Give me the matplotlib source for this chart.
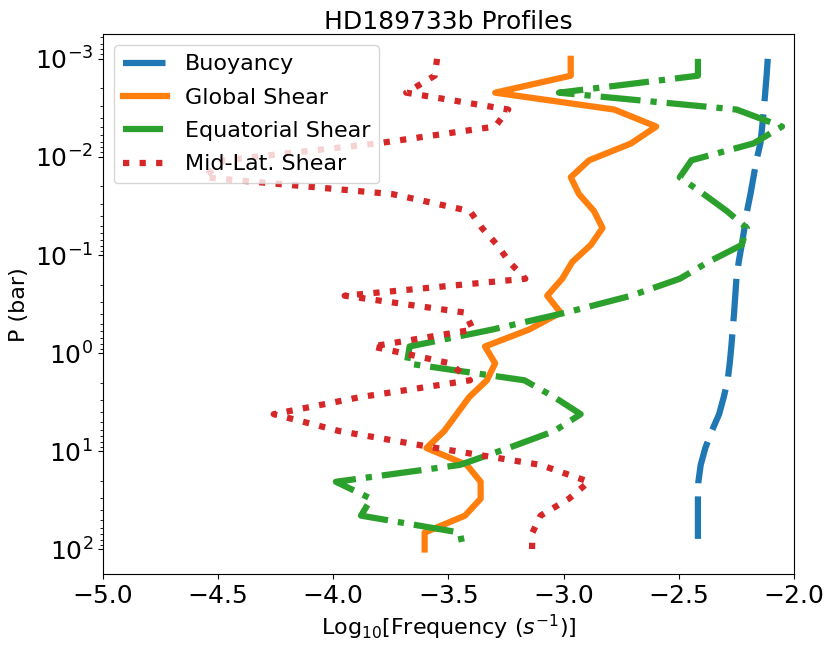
import matplotlib
matplotlib.use("Agg")
import matplotlib.pyplot as plt

# Pressure levels (bar)
pressure = [1.000e-3, 1.486e-3, 2.213e-3, 3.289e-3, 4.898e-3, 7.278e-3, 1.081e-2, 1.611e-2,
            2.393e-2, 3.565e-2, 5.297e-2, 7.889e-2, 0.1172, 0.1742, 0.2594, 0.3855,
            0.5741, 0.8531, 1.268, 1.888, 2.805, 4.178, 6.209, 9.247, 13.74, 20.42,
            30.41, 45.19, 67.30, 100.0]

buoyancy = [-2.114, -2.119, -2.125, -2.131, -2.138, -2.146, -2.163, -2.176, -2.189, -2.204,
            -2.215, -2.227, -2.240, -2.250, -2.255, -2.260, -2.266, -2.272, -2.279, -2.288,
            -2.305, -2.325, -2.357, -2.385, -2.405, -2.415, -2.417, -2.417, -2.417, -2.417]

global_shear = [-2.969, -2.969, -3.297, -2.780, -2.598, -2.707, -2.889, -2.969, -2.933, -2.868,
                -2.831, -2.882, -2.962, -3.006, -3.071, -3.013, -3.150, -3.341, -3.297, -3.333,
                -3.410, -3.464, -3.518, -3.595, -3.420, -3.360, -3.360, -3.428, -3.603, -3.603]

equatorial_shear = [-2.417, -2.417, -3.020, -2.249, -2.052, -2.176, -2.445, -2.496, -2.392, -2.291,
                    -2.205, -2.227, -2.371, -2.496, -2.707, -2.990, -3.310, -3.668, -3.680, -3.170,
                    -3.040, -2.926, -3.040, -3.240, -3.450, -3.988, -3.835, -3.879, -3.450, -3.435]

midlat_shear = [-3.549, -3.559, -3.683, -3.240, -3.297, -3.808, -4.476, -4.560, -3.742, -3.406,
                -3.354, -3.288, -3.236, -3.166, -3.950, -3.428, -3.393, -3.830, -3.493, -3.406,
                -3.884, -4.258, -3.974, -3.552, -3.100, -2.890, -2.977, -3.100, -3.135, -3.137]

labels = ["Buoyancy", "Global Shear", "Equatorial Shear", "Mid-Lat. Shear"]
xticks = [-5.0, -4.5, -4.0, -3.5, -3.0, -2.5, -2.0]

fig = plt.figure(figsize=(8.31, 6.47), dpi=100)
ax = fig.add_axes([0.1236, 0.1128, 0.9555 - 0.1236, 0.947 - 0.1128])

lw = 4.5
ax.plot(buoyancy, pressure, color="#1f77b4", lw=lw, linestyle=(0, (6.8, 2.1)), label=labels[0])
ax.plot(global_shear, pressure, color="#ff7f0e", lw=lw, linestyle="-", label=labels[1])
ax.plot(equatorial_shear, pressure, color="#2ca02c", lw=lw, linestyle="-.", label=labels[2])
ax.plot(midlat_shear, pressure, color="#d62728", lw=lw, linestyle=":", label=labels[3])

ax.set_yscale("log")
ax.set_ylim(10 ** 2.25, 10 ** -3.25)
ax.set_xlim(-5.0, -2.0)
ax.set_xticks(xticks)
ax.tick_params(axis="both", which="major", labelsize=18)

ax.set_xlabel(r"Log$_{10}$[Frequency ($s^{-1}$)]", fontsize=16)
ax.set_ylabel("P (bar)", fontsize=16)
ax.set_title("HD189733b Profiles", fontsize=18, pad=3.5)
ax.legend(loc="upper left", fontsize=16, labelspacing=0.6)

fig.savefig("out.png", dpi=100)
